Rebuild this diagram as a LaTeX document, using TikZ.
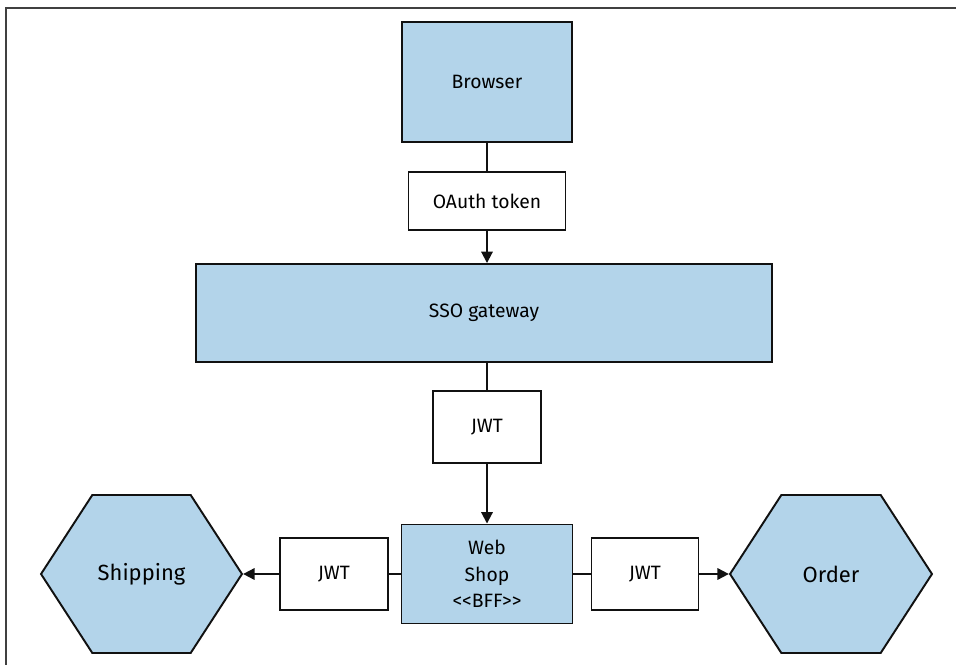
\documentclass[tikz,border=0pt]{standalone}
\usepackage{fontspec}
\setmainfont{Fira Sans}
\usetikzlibrary{arrows.meta,shapes.symbols}
\definecolor{paleblue}{HTML}{B3D4EA}
\definecolor{ink}{HTML}{111111}
\tikzset{
  box/.style={rectangle, draw=ink, line width=1.1pt, fill=white, align=center,
              inner sep=0pt, font=\fontsize{11}{15}\selectfont},
  svcbox/.style={box, fill=paleblue},
  tokbox/.style={box},
  hexbox/.style={svcbox, signal, signal to=west and east, signal pointer angle=114,
                 font=\fontsize{12.5}{15}\selectfont},
  link/.style={draw=ink, line width=1.1pt},
  flow/.style={link, -{Triangle[length=6.5pt,width=6.5pt]}},
  frame/.style={draw=black!75, line width=1pt},
}

\begin{document}
\begin{tikzpicture}[x=0.02cm,y=-0.02cm]
\useasboundingbox (0,0) rectangle (956,665);
\draw[frame] (956,8) -- (6,8) -- (6,665);

\node[svcbox, minimum width=3.4cm,  minimum height=2.4cm]  (browser) at (487, 82)  {Browser};
\node[tokbox, minimum width=3.14cm, minimum height=1.16cm] (oauth)   at (487,201)  {OAuth token};
\node[svcbox, minimum width=11.52cm,minimum height=1.96cm] (sso)     at (484,313)  {SSO gateway};
\node[tokbox, minimum width=2.16cm, minimum height=1.44cm] (jwtmid)  at (487,427)  {JWT};
\node[svcbox, minimum width=3.42cm, minimum height=1.98cm] (shop)    at (487,574)  {Web\\Shop\\{<}{<}BFF{>}{>}};
\node[tokbox, minimum width=2.16cm, minimum height=1.44cm] (jwtleft) at (334,574)  {JWT};
\node[tokbox, minimum width=2.14cm, minimum height=1.44cm] (jwtright)at (645,574)  {JWT};
\node[hexbox, minimum width=4.02cm, minimum height=3.16cm] (ship)    at (141.5,574){Shipping};
\node[hexbox, minimum width=4.04cm, minimum height=3.16cm] (order)   at (831,574)  {Order};

\draw[link] (browser) -- (oauth);
\draw[flow] (oauth.south) -- (oauth.south |- sso.north);
\draw[link] (jwtmid.north |- sso.south) -- (jwtmid);
\draw[flow] (jwtmid) -- (shop);
\draw[link] (shop) -- (jwtleft);
\draw[flow] (jwtleft) -- (ship.east);
\draw[link] (shop) -- (jwtright);
\draw[flow] (jwtright) -- (order.west);
\end{tikzpicture}
\end{document}
